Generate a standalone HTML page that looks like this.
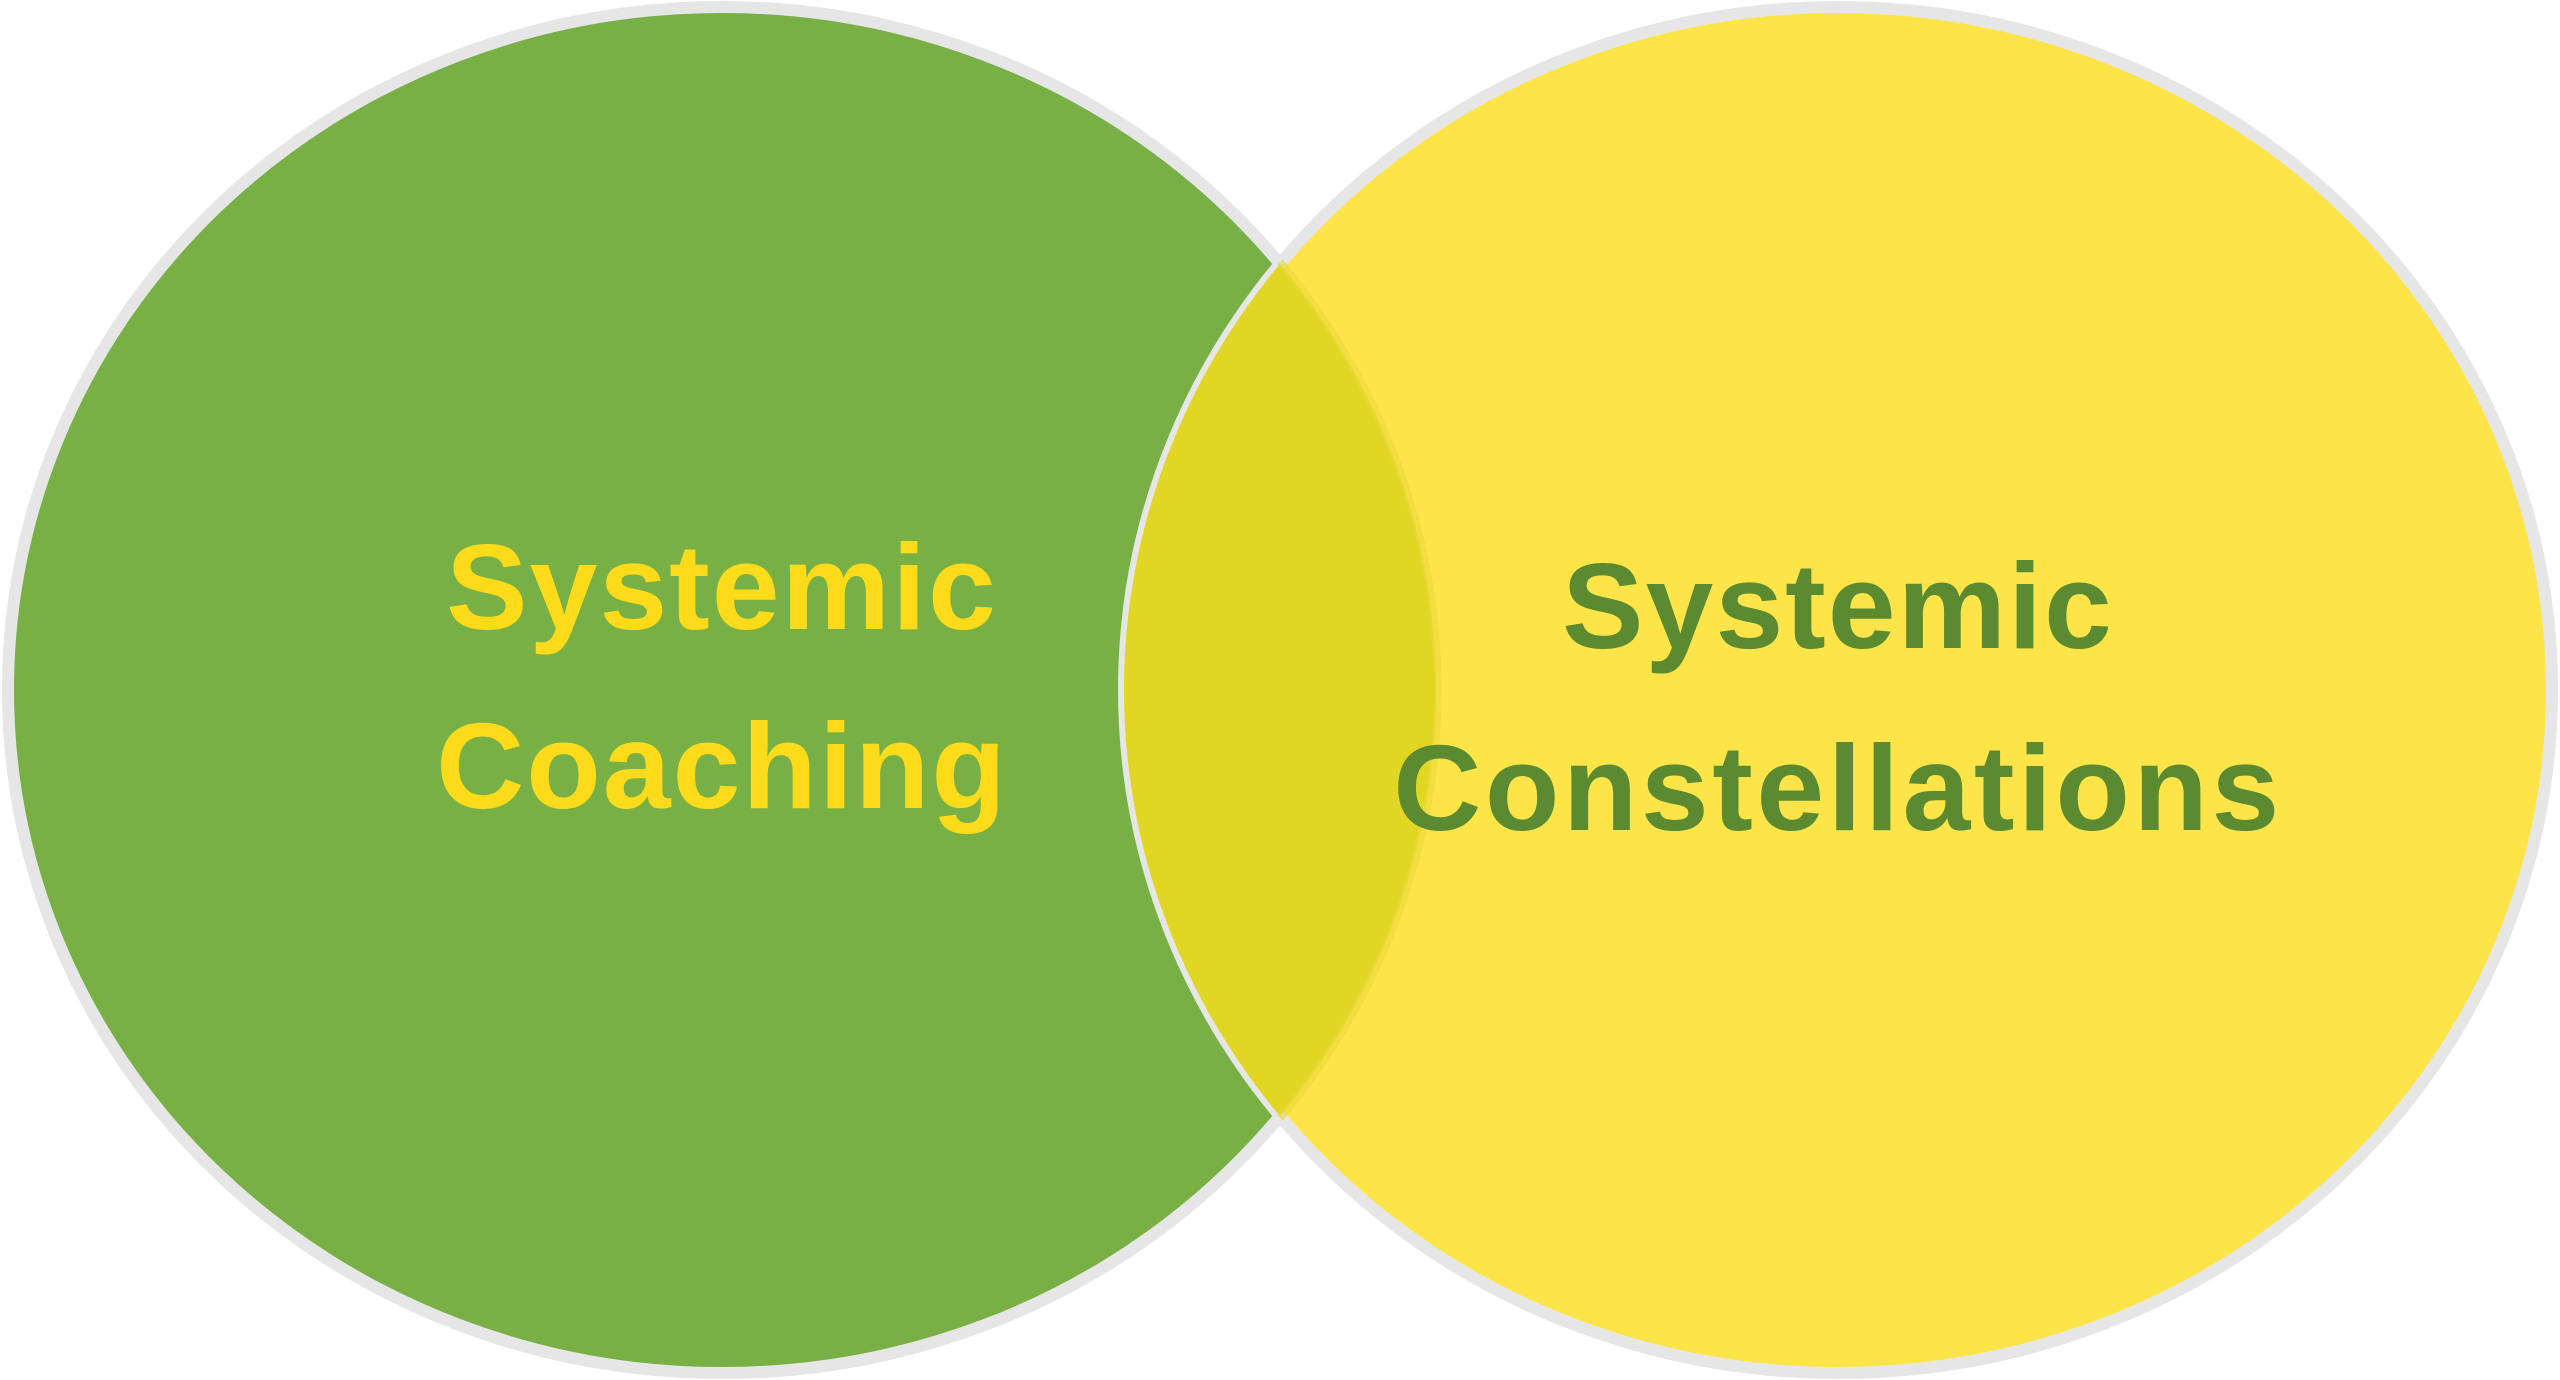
<!DOCTYPE html>
<html><head><meta charset="utf-8"><style>html,body{margin:0;padding:0;background:#fff;width:2560px;height:1380px;overflow:hidden}</style></head>
<body>
<svg width="2560" height="1380" viewBox="0 0 2560 1380" xmlns="http://www.w3.org/2000/svg">
<defs>
<clipPath id="lc"><ellipse cx="722" cy="690" rx="714" ry="683"/></clipPath>
</defs>
<ellipse cx="722" cy="690" rx="714" ry="683" fill="#78b046" stroke="#e6e6e6" stroke-width="12"/>
<ellipse cx="1838" cy="690" rx="714" ry="683" fill="#fde549" stroke="#e6e6e6" stroke-width="12"/>
<ellipse cx="1838" cy="690" rx="714" ry="683" fill="#e0d623" clip-path="url(#lc)"/>
<path d="M1280 262 A714 683 0 0 1 1280 1118" fill="none" stroke="#ebd93a" stroke-width="8" opacity="0.6"/>
<g font-family="Liberation Sans, sans-serif" font-weight="bold" font-size="122" text-anchor="middle">
<text x="722" y="629" fill="#fcdc1a" letter-spacing="2">Systemic</text>
<text x="722" y="808" fill="#fcdc1a" letter-spacing="2">Coaching</text>
<text x="1838" y="648" fill="#5b8a30" letter-spacing="2">Systemic</text>
<text x="1838" y="830" fill="#5b8a30" letter-spacing="3.5">Constellations</text>
</g>
</svg>
</body></html>
